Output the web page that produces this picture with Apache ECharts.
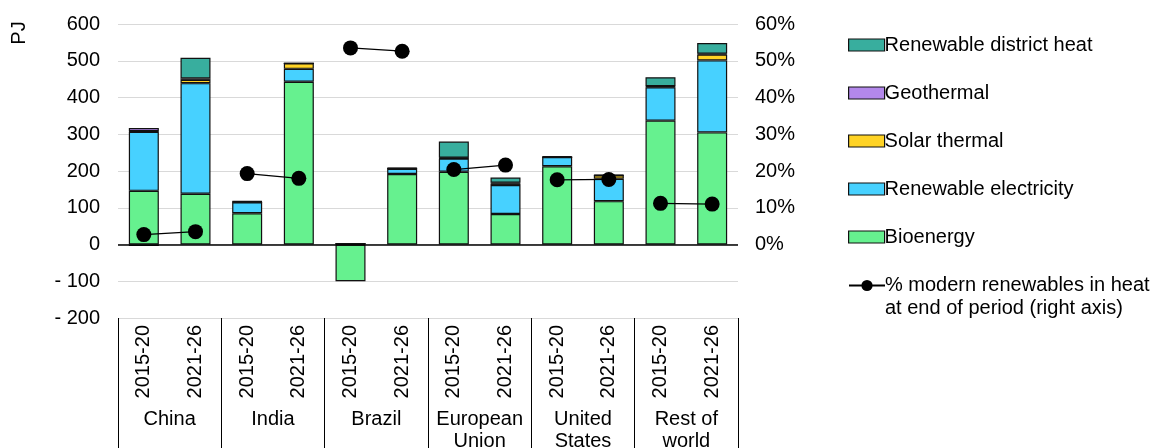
<!DOCTYPE html>
<html>
<head>
<meta charset="utf-8">
<script src="https://cdn.jsdelivr.net/npm/echarts@6/dist/echarts.min.js"></script>
<style>
  html, body { margin: 0; padding: 0; background: #fff; }
  #chart { width: 1155px; height: 448px; }
</style>
</head>
<body>
<div id="chart"></div>
<script>
// Periods and regions
const periods = ['2015-20', '2021-26', '2015-20', '2021-26', '2015-20', '2021-26',
                 '2015-20', '2021-26', '2015-20', '2021-26', '2015-20', '2021-26'];
const regions = ['China', 'India', 'Brazil', 'European\nUnion', 'United\nStates', 'Rest of\nworld'];

// Change in renewable heat consumption, PJ
const bioenergy            = [146, 138, 85, 443, -100, 192, 198, 83, 213, 118, 337, 305];
const renewableElectricity = [161, 301, 30, 35, 2, 14, 36, 79, 25, 61, 91, 196];
const solarThermal         = [1, 9, 0, 15, 0, 1, 1, 4, 0, 9, 2, 16];
const geothermal           = [9, 4, 2, 0, 0, 0, 1, 2, 0, 0, 1, 2];
const districtHeat         = [-4, 56, 1, 0, 0, 2, 44, 14, 3, 2, 24, 29];

// Share of modern renewables in heat at end of period, %
const modernShare = [2.7, 3.5, 19.3, 18.0, 53.5, 52.6, 20.4, 21.6, 17.6, 17.7, 11.2, 11.0];

const FONT = 'Liberation Sans, Arial, sans-serif';
const FS = 20;
const LINE_NAME = '% modern renewables in heat\nat end of period (right axis)';

const barSeries = [
  { name: 'Bioenergy', data: bioenergy, color: '#66F18F' },
  { name: 'Renewable electricity', data: renewableElectricity, color: '#47D1FF' },
  { name: 'Solar thermal', data: solarThermal, color: '#FFD325' },
  { name: 'Geothermal', data: geothermal, color: '#B388EB' },
  { name: 'Renewable district heat', data: districtHeat, color: '#38AE9E' }
].map((s, i) => ({
  name: s.name,
  type: 'bar',
  stack: 'heat',
  barWidth: 30,
  data: s.data,
  itemStyle: { color: s.color, borderColor: '#111', borderWidth: 1.2 },
  z: 3,
  markLine: i === 0 ? {
    silent: true, symbol: 'none', label: { show: false },
    lineStyle: { color: '#000', width: 1.5, type: 'solid' },
    data: [{ yAxis: 0 }]
  } : undefined
}));

// One short line per region joining its two periods
const lineSeries = regions.map((r, g) => ({
  name: LINE_NAME,
  type: 'line',
  yAxisIndex: 1,
  data: modernShare.map((v, i) => (Math.floor(i / 2) === g ? v : '-')),
  symbol: 'circle',
  symbolSize: 15,
  itemStyle: { color: '#000' },
  lineStyle: { color: '#000', width: 1.2 },
  z: 5
}));

const chart = echarts.init(document.getElementById('chart'));
chart.setOption({
  animation: false,
  textStyle: { fontFamily: FONT },
  grid: { left: 118, right: 417, top: 24, bottom: 130, containLabel: false, outerBoundsMode: 'none' },
  xAxis: [
    {
      type: 'category',
      data: periods,
      position: 'bottom',
      axisLine: { show: false, onZero: false },
      axisTick: { show: false },
      axisLabel: { interval: 0, rotate: 90, margin: 7, fontSize: FS, color: '#000', fontFamily: FONT }
    },
    {
      type: 'category',
      data: regions,
      position: 'bottom',
      axisLine: { show: false, onZero: false },
      axisTick: { show: true, interval: 0, length: 130, lineStyle: { color: '#000', width: 1 } },
      axisLabel: {
        interval: 0, hideOverlap: false, margin: 90, fontSize: FS, lineHeight: 22,
        align: 'center', color: '#000', fontFamily: FONT
      }
    }
  ],
  yAxis: [
    {
      type: 'value',
      min: -200, max: 600, interval: 100,
      axisLine: { show: false },
      axisTick: { show: false },
      splitLine: { lineStyle: { color: '#D9D9D9', width: 1 } },
      axisLabel: {
        margin: 18, fontSize: FS, color: '#000', fontFamily: FONT,
        formatter: v => (v < 0 ? '- ' + Math.abs(v) : String(v))
      }
    },
    {
      type: 'value',
      min: -20, max: 60, interval: 10,
      axisLine: { show: false },
      axisTick: { show: false },
      splitLine: { show: false },
      axisLabel: {
        margin: 17, fontSize: FS, color: '#000', fontFamily: FONT,
        formatter: v => (v < 0 ? '' : v + '%')
      }
    }
  ],
  legend: [
    {
      orient: 'vertical',
      left: 843, top: 30,
      itemWidth: 36, itemHeight: 12, itemGap: 28,
      icon: 'rect',
      data: ['Renewable district heat', 'Geothermal', 'Solar thermal', 'Renewable electricity', 'Bioenergy'],
      textStyle: { fontSize: FS, lineHeight: 20, color: '#000', padding: [0, 0, 0, -5], fontFamily: FONT },
      itemStyle: { borderColor: '#111', borderWidth: 1.2 }
    },
    {
      orient: 'vertical',
      left: 843, top: 246,
      itemWidth: 36, itemHeight: 14,
      data: [LINE_NAME],
      // an empty leading line keeps the marker level with the first text line
      formatter: name => '{gap| }\n' + name,
      textStyle: {
        fontSize: FS, lineHeight: 23, color: '#000', padding: [0, 0, 0, -5], fontFamily: FONT,
        rich: { gap: { fontSize: FS, lineHeight: 23 } }
      }
    }
  ],
  graphic: [
    {
      type: 'text',
      x: 19, y: 33,
      rotation: Math.PI / 2,
      style: { text: 'PJ', font: FS + 'px ' + FONT, fill: '#000', textAlign: 'center', textVerticalAlign: 'middle' }
    }
  ],
  series: [...barSeries, ...lineSeries]
});
</script>
</body>
</html>
